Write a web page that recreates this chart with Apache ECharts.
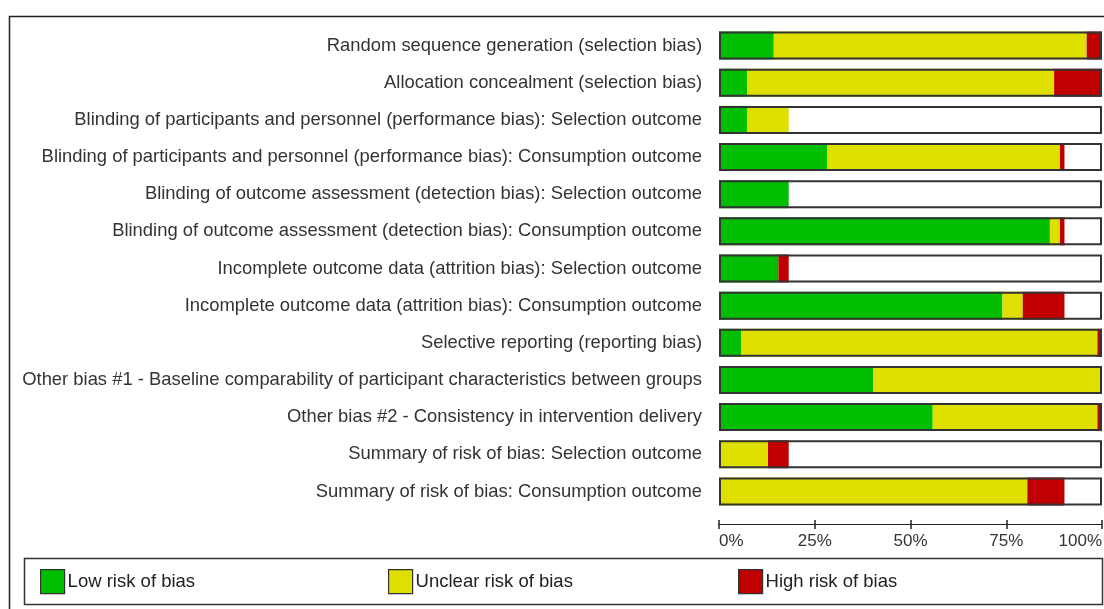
<!DOCTYPE html>
<html>
<head>
<meta charset="utf-8">
<script src="https://cdn.jsdelivr.net/npm/echarts@6/dist/echarts.min.js"></script>
<style>
html,body{margin:0;padding:0;background:#fff;}
#chart{width:1104px;height:609px;}
</style>
</head>
<body>
<div id="chart"></div>
<script>
const categories = [
  'Random sequence generation (selection bias)',
  'Allocation concealment (selection bias)',
  'Blinding of participants and personnel (performance bias): Selection outcome',
  'Blinding of participants and personnel (performance bias): Consumption outcome',
  'Blinding of outcome assessment (detection bias): Selection outcome',
  'Blinding of outcome assessment (detection bias): Consumption outcome',
  'Incomplete outcome data (attrition bias): Selection outcome',
  'Incomplete outcome data (attrition bias): Consumption outcome',
  'Selective reporting (reporting bias)',
  'Other bias #1 - Baseline comparability of participant characteristics between groups',
  'Other bias #2 - Consistency in intervention delivery',
  'Summary of risk of bias: Selection outcome',
  'Summary of risk of bias: Consumption outcome'
];
const lowRisk     = [14.3, 7.4, 7.4, 28.3, 18.2, 86.4, 15.5, 74.0, 5.8, 40.3, 55.8, 0, 0];
const unclearRisk = [81.7, 80.1, 10.8, 60.7, 0, 2.6, 0, 5.3, 93.0, 59.7, 43.0, 12.8, 80.5];
const highRisk    = [4.0, 12.5, 0, 1.2, 0, 1.2, 2.7, 10.9, 1.2, 0, 1.2, 5.4, 9.7];
const frameFull   = [100, 100, 100, 100, 100, 100, 100, 100, 100, 100, 100, 100, 100];
const tickLabels  = ['0%', '25%', '50%', '75%', '100%'];

const chart = echarts.init(document.getElementById('chart'));
const FONT = 'Liberation Sans, Arial, sans-serif';
const legendBase = {
  top: 569, padding: 0, itemWidth: 24, itemHeight: 24, icon: 'rect', itemGap: 0,
  itemStyle: {borderColor: '#333', borderWidth: 1.2},
  textStyle: {fontFamily: FONT, fontSize: 18.5, color: '#222', padding: [0,0,0,-2]},
  selectedMode: false
};
chart.setOption({
  animation: false,
  backgroundColor: '#fff',
  graphic: [
    {type: 'rect', shape: {x: 9.5, y: 16.5, width: 1200, height: 700}, style: {fill: 'none', stroke: '#222', lineWidth: 1.5}, z: -10},
    {type: 'rect', shape: {x: 24.5, y: 558.5, width: 1078, height: 46}, style: {fill: 'none', stroke: '#333', lineWidth: 1.5}, z: -10}
  ],
  legend: [
    Object.assign({}, legendBase, {left: 40, data: ['Low risk of bias']}),
    Object.assign({}, legendBase, {left: 388, data: ['Unclear risk of bias']}),
    Object.assign({}, legendBase, {left: 738, data: ['High risk of bias']})
  ],
  grid: {left: 719, width: 383, top: 27, height: 483, containLabel: false, outerBoundsMode: 'none'},
  xAxis: [{
    type: 'value', min: 0, max: 100, interval: 25, position: 'bottom', offset: 14,
    axisLine: {show: true, lineStyle: {color: '#222', width: 1}},
    axisTick: {show: true, length: 5, lineStyle: {color: '#222', width: 1.5}},
    splitLine: {show: false},
    axisLabel: {
      margin: 9, fontFamily: FONT, fontSize: 17, color: '#333',
      alignMinLabel: 'left', alignMaxLabel: 'right',
      formatter: function (v) { return tickLabels[Math.round(v / 25)]; }
    }
  }, {
    type: 'value', min: 0, max: 100, interval: 25, position: 'bottom', offset: 14,
    axisLine: {show: false},
    axisTick: {show: true, inside: true, length: 4, lineStyle: {color: '#222', width: 1.5}},
    splitLine: {show: false},
    axisLabel: {show: false}
  }],
  yAxis: {
    type: 'category', data: categories, inverse: true,
    axisLine: {show: false}, axisTick: {show: false}, splitLine: {show: false},
    axisLabel: {margin: 17, fontFamily: FONT, fontSize: 18.4, color: '#333', padding: [4, 0, 0, 0]}
  },
  series: [
    {name: 'Low risk of bias', type: 'bar', stack: 'r', barWidth: 28, data: lowRisk,
     itemStyle: {color: '#00bf00'}},
    {name: 'Unclear risk of bias', type: 'bar', stack: 'r', barWidth: 28, data: unclearRisk,
     itemStyle: {color: '#e0e000'}},
    {name: 'High risk of bias', type: 'bar', stack: 'r', barWidth: 28, data: highRisk,
     itemStyle: {color: '#c00000'}},
    {name: 'frame', type: 'bar', barWidth: 28, barGap: '-100%', data: frameFull, z: 5,
     silent: true, itemStyle: {color: 'rgba(0,0,0,0)', borderColor: '#333', borderWidth: 2}}
  ]
});
</script>
</body>
</html>
